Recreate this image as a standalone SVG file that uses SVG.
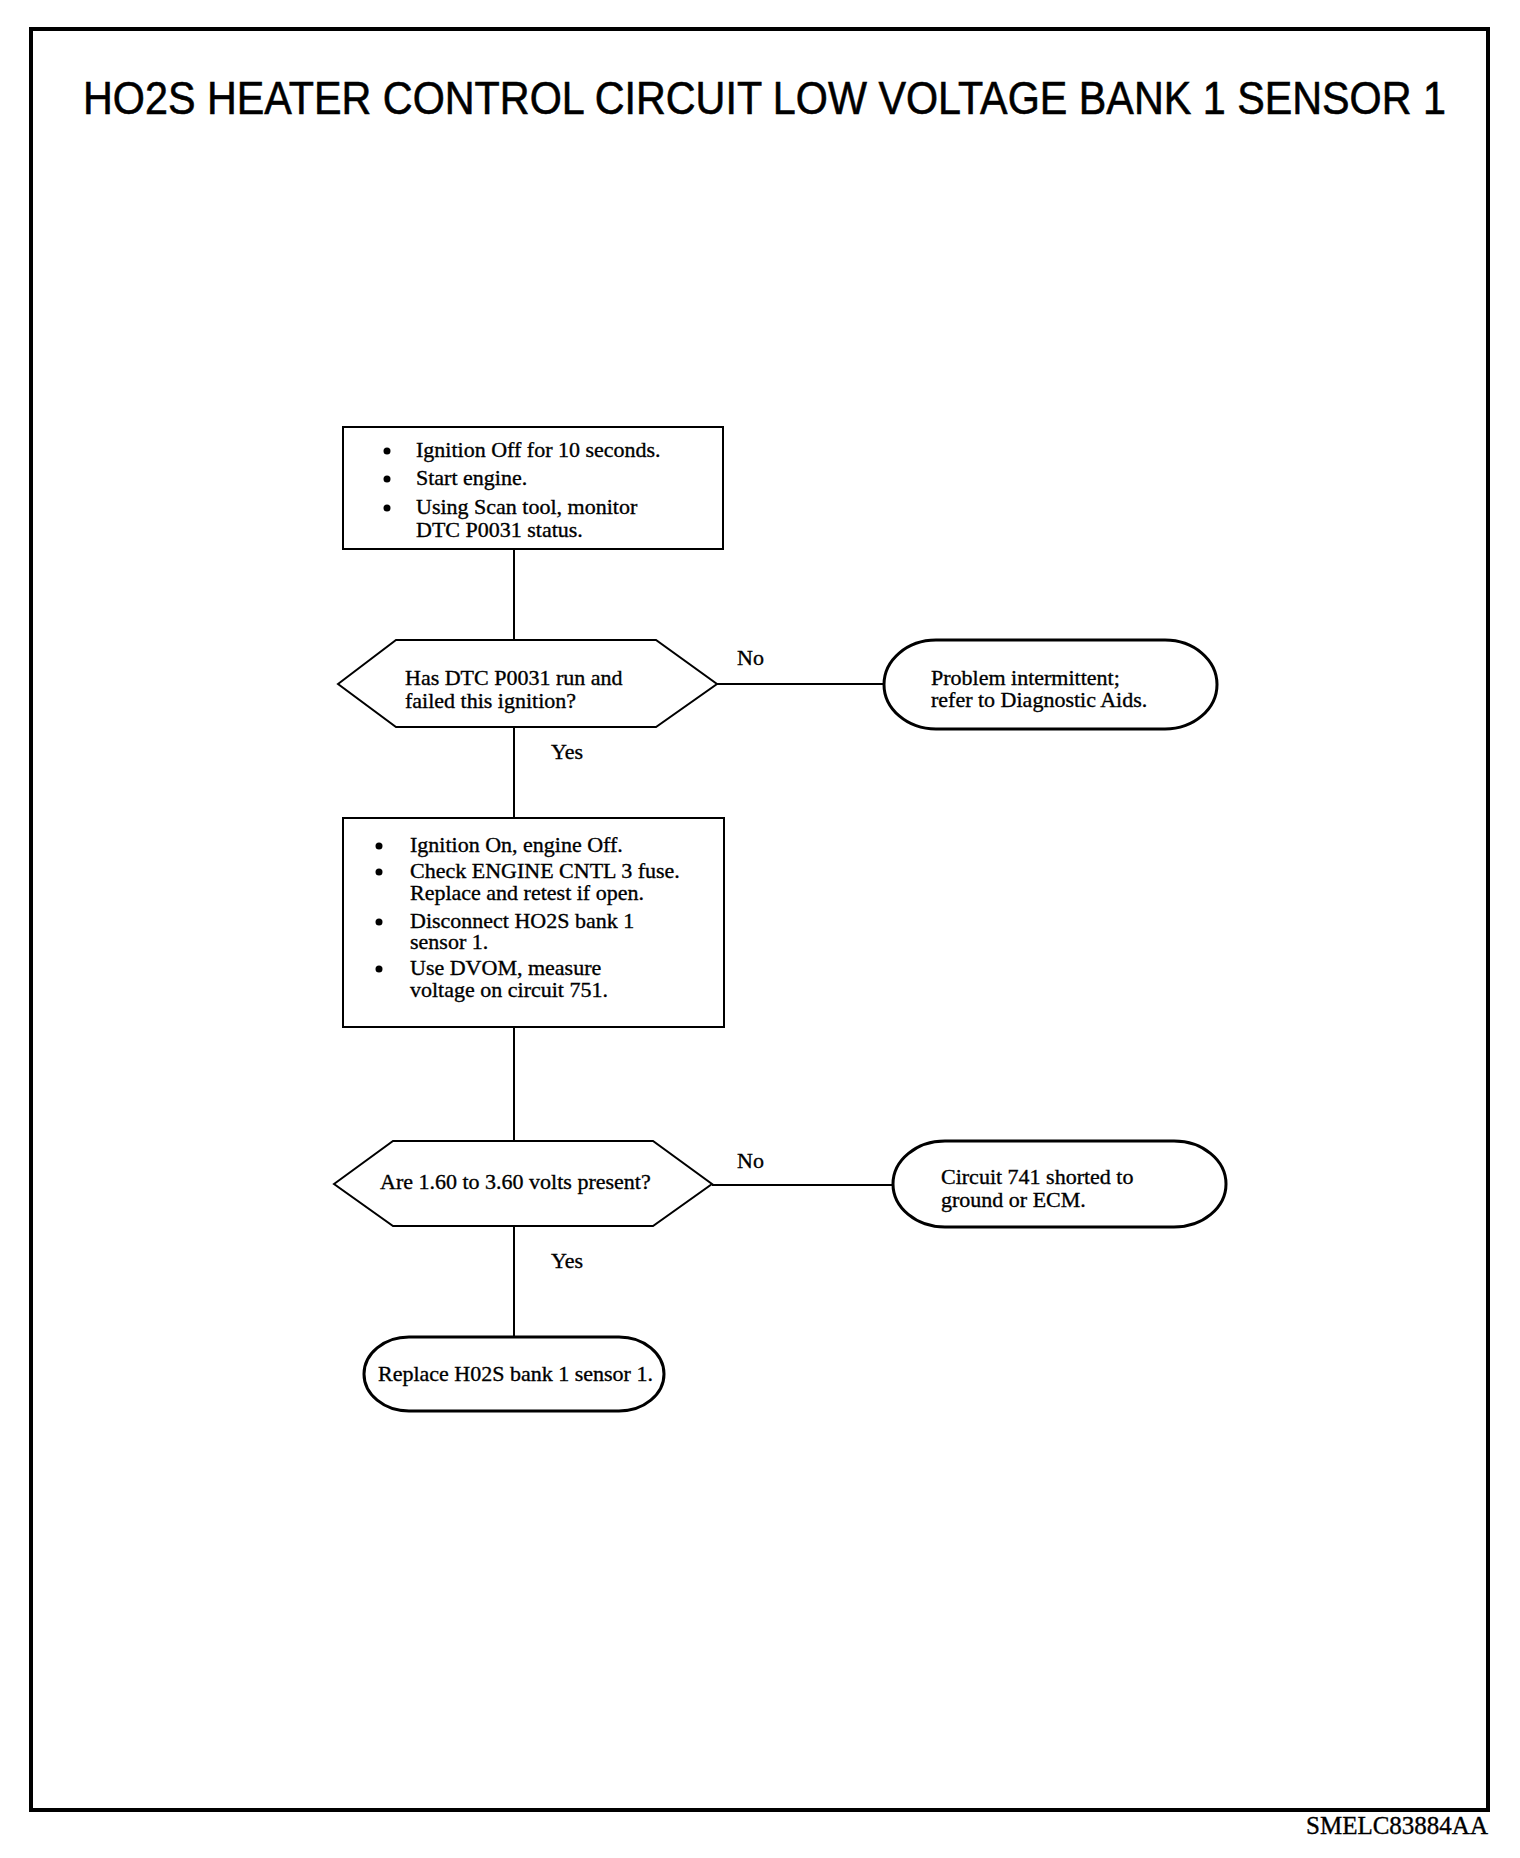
<svg xmlns="http://www.w3.org/2000/svg" width="1520" height="1858" viewBox="0 0 1520 1858">
<style>
.bg{fill:#ffffff}
.frame{fill:none;stroke:#000;stroke-width:4}
.box{fill:#fff;stroke:#000;stroke-width:2}
.term{fill:#fff;stroke:#000;stroke-width:3}
.line{fill:none;stroke:#000;stroke-width:2}
.t{font-family:"Liberation Serif","Times New Roman",serif;font-size:22px;fill:#000;stroke:#000;stroke-width:0.35}
.title{font-family:"Liberation Sans",Arial,Helvetica,sans-serif;font-size:46px;fill:#000;stroke:#000;stroke-width:0.6}
.dot{fill:#000}
</style>
<rect class="bg" x="0" y="0" width="1520" height="1858"/>
<rect class="frame" x="31" y="29" width="1457" height="1781"/>
<text class="title" x="83" y="114" textLength="1363" lengthAdjust="spacingAndGlyphs">HO2S HEATER CONTROL CIRCUIT LOW VOLTAGE BANK 1 SENSOR 1</text>
<g id="connectors">
<line class="line" x1="514" y1="549" x2="514" y2="640"/>
<line class="line" x1="514" y1="726" x2="514" y2="818"/>
<line class="line" x1="717" y1="684" x2="884" y2="684"/>
<line class="line" x1="514" y1="1027" x2="514" y2="1141"/>
<line class="line" x1="514" y1="1226" x2="514" y2="1337"/>
<line class="line" x1="712" y1="1185" x2="893" y2="1185"/>
<text class="t" x="737" y="665">No</text>
<text class="t" x="551" y="759">Yes</text>
<text class="t" x="737" y="1168">No</text>
<text class="t" x="551" y="1268">Yes</text>
</g>
<g id="step1">
<rect class="box" x="343" y="427" width="380" height="122"/>
<circle class="dot" cx="387" cy="451" r="3.5"/>
<circle class="dot" cx="387" cy="479" r="3.5"/>
<circle class="dot" cx="387" cy="508" r="3.5"/>
<text class="t" x="416" y="457">Ignition Off for 10 seconds.</text>
<text class="t" x="416" y="485">Start engine.</text>
<text class="t" x="416" y="514">Using Scan tool, monitor</text>
<text class="t" x="416" y="537">DTC P0031 status.</text>
</g>
<g id="decision1">
<polygon class="box" points="338,684 396,640 656,640 717,684 656,727 396,727"/>
<text class="t" x="405" y="685">Has DTC P0031 run and</text>
<text class="t" x="405" y="708">failed this ignition?</text>
</g>
<g id="result1">
<rect class="term" x="884" y="640" width="333" height="89" rx="52" ry="44.5"/>
<text class="t" x="931" y="685">Problem intermittent;</text>
<text class="t" x="931" y="707">refer to Diagnostic Aids.</text>
</g>
<g id="step2">
<rect class="box" x="343" y="818" width="381" height="209"/>
<circle class="dot" cx="379" cy="846" r="3.5"/>
<circle class="dot" cx="379" cy="872" r="3.5"/>
<circle class="dot" cx="379" cy="922" r="3.5"/>
<circle class="dot" cx="379" cy="969" r="3.5"/>
<text class="t" x="410" y="852">Ignition On, engine Off.</text>
<text class="t" x="410" y="878">Check ENGINE CNTL 3 fuse.</text>
<text class="t" x="410" y="900">Replace and retest if open.</text>
<text class="t" x="410" y="928">Disconnect HO2S bank 1</text>
<text class="t" x="410" y="949">sensor 1.</text>
<text class="t" x="410" y="975">Use DVOM, measure</text>
<text class="t" x="410" y="997">voltage on circuit 751.</text>
</g>
<g id="decision2">
<polygon class="box" points="334,1184 393,1141 653,1141 712,1184 653,1226 393,1226"/>
<text class="t" x="380" y="1189">Are 1.60 to 3.60 volts present?</text>
</g>
<g id="result2">
<rect class="term" x="893" y="1141" width="333" height="86" rx="52" ry="43"/>
<text class="t" x="941" y="1184">Circuit 741 shorted to</text>
<text class="t" x="941" y="1207">ground or ECM.</text>
</g>
<g id="result3">
<rect class="term" x="364" y="1337" width="300" height="74" rx="45" ry="37"/>
<text class="t" x="378" y="1381">Replace H02S bank 1 sensor 1.</text>
</g>
<text class="t" x="1306" y="1834" style="font-size:25px">SMELC83884AA</text>
</svg>
